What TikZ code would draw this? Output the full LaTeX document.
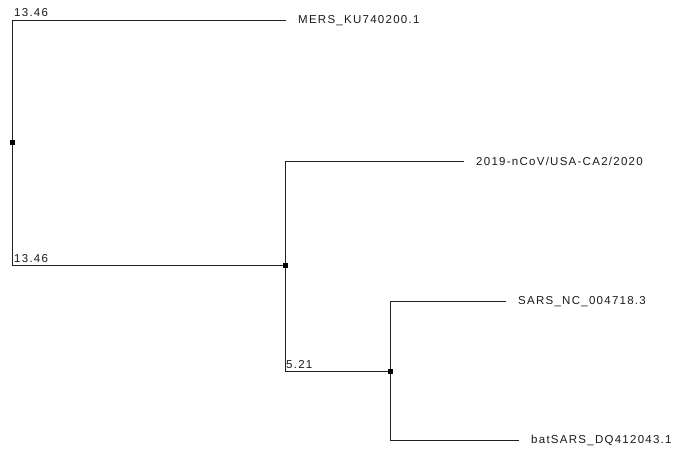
\documentclass[tikz,border=0pt]{standalone}
\usepackage{fontspec}
\setmainfont{Liberation Sans}
\newfontfamily\lblfont[LetterSpace=11]{Liberation Sans}
\definecolor{txt}{HTML}{1A1A1A}
\definecolor{ln}{HTML}{222222}
\begin{document}
\begin{tikzpicture}[x=1pt,y=-1pt,
  branch/.style={draw=ln, line width=1pt},
  dot/.style={fill=black, draw=none, minimum size=5pt, inner sep=0pt, rectangle},
  leaf/.style={anchor=west, inner ysep=0pt, inner xsep=12pt, text=txt, font=\lblfont\fontsize{11.5}{13}\selectfont},
  blen/.style={anchor=base west, inner sep=0pt, text=txt, font=\lblfont\fontsize{11.5}{13}\selectfont}]
\useasboundingbox (0,0) rectangle (673,448);
% internal nodes
\node[dot] (r) at (12.5,142.5) {};
\node[dot] (n1) at (285.5,265.5) {};
\node[dot] (n2) at (390.5,371.5) {};
% leaves
\node[leaf] (mers) at (286,20.5) {MERS\_KU740200.1};
\node[leaf] (ncov) at (464,161.5) {2019-nCoV/USA-CA2/2020};
\node[leaf] (sars) at (506,301.5) {SARS\_NC\_004718.3};
\node[leaf] (bat) at (519,440.5) {batSARS\_DQ412043.1};
% branches
\draw[branch] (mers.west) -| (r.center) |- (n1.center);
\draw[branch] (ncov.west) -| (n1.center) |- (n2.center);
\draw[branch] (sars.west) -| (n2.center) |- (bat.west);
\node[dot] at (r) {};
\node[dot] at (n1) {};
\node[dot] at (n2) {};
% branch length labels
\node[blen] (l1) at (14,16) {13.46};
\node[blen] (l2) at (14,262) {13.46};
\node[blen] (l3) at (286,368) {5.21};
\end{tikzpicture}
\end{document}
